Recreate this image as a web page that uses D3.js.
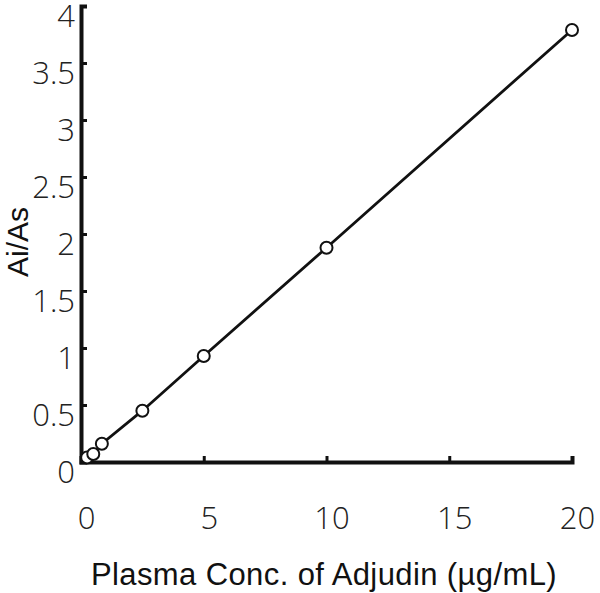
<!DOCTYPE html>
<meta charset="utf-8">
<title>Adjudin calibration</title>
<style>

body {
  margin: 0px;
  background: #fff;
}

.axis text {
  font-family: "Open Sans", Roboto, sans-serif;
  font-weight: 300;
  font-size: 31px;
  fill: #222;
}

.axis path, .axis line {
  stroke: #111;
}

.label {
  font-family: "Liberation Sans", Arial, sans-serif;
  font-size: 30px;
  fill: #111;
}

</style>

<script src="https://d3js.org/d3.v7.min.js"></script>

<body>

<script>

var width = 600, height = 593;

// concentration (ug/mL) vs peak area ratio
var conc  = [0.25, 0.5, 0.85, 2.5, 5, 10, 20];
var ratio = [0.04, 0.07, 0.16, 0.45, 0.93, 1.88, 3.79];

var xTicks = [0, 5, 10, 15, 20];
var yTicks = [0, 0.5, 1, 1.5, 2, 2.5, 3, 3.5, 4];

var data = conc.map(function(c, i) { return {x: c, y: ratio[i]}; });

var svg = d3.select("body").append("svg")
    .attr("width", width)
    .attr("height", height);

var x = d3.scaleLinear()
    .domain([0, 20])
    .range([81, 572]);

var y = d3.scaleLinear()
    .domain([0, 4])
    .range([462, 6]);

var xAxis = d3.axisBottom(x)
    .tickValues(xTicks)
    .tickSizeInner(-6)
    .tickSizeOuter(-6)
    .tickPadding(45)
    .tickFormat(d3.format("d"));

var yAxis = d3.axisLeft(y)
    .tickValues(yTicks)
    .tickSizeInner(-6)
    .tickSizeOuter(-6)
    .tickPadding(6)
    .tickFormat(function(d) { return d; });

var gx = svg.append("g")
    .attr("class", "axis")
    .attr("transform", "translate(0," + y(0) + ")")
    .call(xAxis);

var gy = svg.append("g")
    .attr("class", "axis")
    .attr("transform", "translate(" + x(0) + ",0)")
    .call(yAxis);

gx.select(".domain").attr("stroke-width", 4);
gy.select(".domain").attr("stroke-width", 4);
gx.selectAll(".tick line").attr("stroke-width", 3);
gy.selectAll(".tick line").attr("stroke-width", 3);

// labels sit a little off their ticks in the original
gx.selectAll(".tick text").attr("x", 5);
gy.selectAll(".tick text").attr("y", 11);

// fitted line through the points
var line = d3.line()
    .x(function(d) { return x(d.x); })
    .y(function(d) { return y(d.y); });

svg.append("path")
    .datum(data)
    .attr("d", line)
    .attr("fill", "none")
    .attr("stroke", "#111")
    .attr("stroke-width", 2.8);

svg.selectAll("circle")
    .data(data)
  .enter().append("circle")
    .attr("cx", function(d) { return x(d.x); })
    .attr("cy", function(d) { return y(d.y); })
    .attr("r", 6)
    .attr("fill", "#fff")
    .attr("stroke", "#111")
    .attr("stroke-width", 2);

svg.append("text")
    .attr("class", "label")
    .attr("x", 324)
    .attr("y", 585)
    .attr("text-anchor", "middle")
    .style("font-size", "31px")
    .style("letter-spacing", "0.4px")
    .text("Plasma Conc. of Adjudin (µg/mL)");

svg.append("text")
    .attr("class", "label")
    .attr("transform", "translate(28,242) rotate(-90)")
    .attr("text-anchor", "middle")
    .text("Ai/As");

</script>
